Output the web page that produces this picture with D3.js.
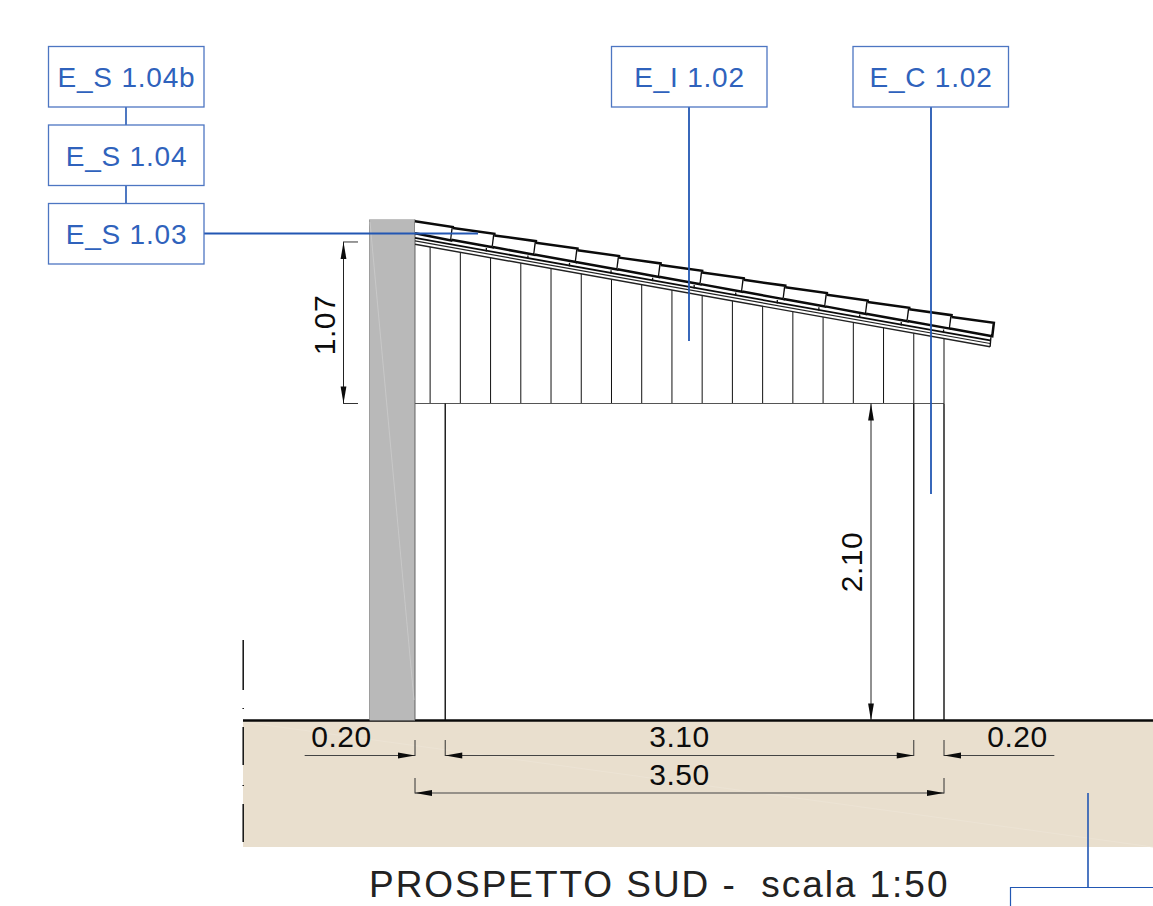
<!DOCTYPE html>
<html><head><meta charset="utf-8">
<script src="https://cdn.jsdelivr.net/npm/d3@7"></script>
<style>html,body{margin:0;padding:0;background:#fff;overflow:hidden}svg{display:block}text{font-family:"Liberation Sans",sans-serif}</style>
</head><body><svg id="c" width="1153" height="906"></svg>
<script>
// Drawing values, in metres
const rafterX=[0.1,0.3,0.5,0.7,0.9,1.1,1.3,1.5,1.7,1.9,2.1,2.3,2.5,2.7,2.9,3.1,3.3,3.5];
const tileEdges=[0,0.25,0.525,0.8,1.075,1.35,1.625,1.9,2.175,2.45,2.725,2.995,3.27,3.55,3.83];
const columnX=[0.2,3.3,3.5];
const wallFace=[-0.3,0];
const lintelH=2.1, roofH0=3.155, roofSlope=0.1785, soffitEnd=3.805;
const hDimLabels=["0.20","3.10","0.20","3.50"];
const hDimFrom=[-0.73,0.2,3.5,0];
const hDimTo=[0,3.3,4.23,3.5];
const vDimLabels=["1.07","2.10"];
const vDimFrom=[2.1,0];
const vDimTo=[3.17,2.1];
const tagLabels=["E_S 1.04b","E_S 1.04","E_S 1.03","E_I 1.02","E_C 1.02"];
const titleText="PROSPETTO SUD -  scala 1:50";

const svg=d3.select("#c");
const xS=d3.scaleLinear().domain([0,3.5]).range([415,944]);
const yS=d3.scaleLinear().domain([0,2.1]).range([720.5,403.5]);
const roof=m=>yS(roofH0-roofSlope*m);
const BLUE="#2257b3", INK="#111";
const line=(x1,y1,x2,y2,c,w,g)=>(g||svg).append("line").attr("x1",x1).attr("y1",y1).attr("x2",x2).attr("y2",y2).attr("stroke",c).attr("stroke-width",w);

// ground
svg.append("rect").attr("x",243).attr("y",720).attr("width",910).attr("height",127).attr("fill","#e9dfce");
line(243,722,1153,847,"#ece3d4",1);
line(243.2,640,243.2,842,INK,1.5).attr("stroke-dasharray","50 18 1 18 38 20 1 18 39 0");
line(243,720.5,1153,720.5,"#0a0a0a",2.6);

// wall
svg.append("rect").attr("x",xS(wallFace[0])).attr("y",219.5).attr("width",xS(wallFace[1])-xS(wallFace[0])).attr("height",501)
  .attr("fill","#b9b9b9");
line(369.5,219.5,369.5,720,"#8a8a8a",.8);
line(369.5,219.5,415,219.5,"#bbb",.8);
line(415,219.5,415,720,"#555",.9);
line(370,222,414,700,"#cbcbcb",.8);

// infill rafters
svg.selectAll(".raf").data(rafterX).join("line").attr("class","raf")
  .attr("x1",d=>xS(d)).attr("x2",d=>xS(d)).attr("y1",d=>roof(d)).attr("y2",yS(lintelH))
  .attr("stroke",INK).attr("stroke-width",1);
line(xS(0),yS(lintelH),xS(3.5),yS(lintelH),"#555",1);

// columns
svg.selectAll(".col").data(columnX).join("line").attr("class","col")
  .attr("x1",d=>xS(d)).attr("x2",d=>xS(d)).attr("y1",yS(lintelH)).attr("y2",720)
  .attr("stroke",INK).attr("stroke-width",1.4);

// roof layers
[[0,1.4,"#222"],[3.3,1.2,"#222"],[6.3,1.8,"#0b0b0b"]].forEach(([off,w,c])=>{
  line(xS(0),roof(0)-off,xS(soffitEnd),roof(soffitEnd)-off,c,w);
});
line(xS(soffitEnd),roof(soffitEnd),xS(soffitEnd)+0.8,roof(soffitEnd)-9.5,"#111",1.4);

// tiles
const tiles=d3.pairs(tileEdges);
const tilePath=([a,b],i)=>{
  const xa=xS(a), xb=xS(b);
  const ya=roof(a)-23, yb=ya+5.8;
  const bx=xb-1.6, by=yb+13.5;
  const prevX=i===0?xa:xa-1.6;
  const prevY=i===0?ya+12:ya-1.8+13.5;
  return d3.line()([[xa,ya],[xb,yb],[bx,by],[prevX,prevY]]);
};
svg.selectAll(".tile").data(tiles).join("path").attr("class","tile")
  .attr("d",tilePath).attr("fill","#fff").attr("stroke","#0b0b0b").attr("stroke-width",2.5);
// batten ticks
svg.selectAll(".tick").data(tileEdges.slice(2,14)).join("line").attr("class","tick")
  .attr("x1",d=>xS(d)-8).attr("x2",d=>xS(d)-8)
  .attr("y1",d=>roof(d-0.05)-9).attr("y2",d=>roof(d-0.05)-5.5)
  .attr("stroke","#111").attr("stroke-width",1.3);

// arrowheads
const arrow=(x,y,dx,dy)=>{
  const L=17,W=2.9,px=-dy,py=dx;
  svg.append("path").attr("d",d3.line()([[x,y],[x-dx*L+px*W,y-dy*L+py*W],[x-dx*L-px*W,y-dy*L-py*W]])).attr("fill","#0b0b0b");
};
const hRow=[755.5,755.5,755.5,793];
const tickTop=[740,740,740,778];
const labelX=[341.5,679.5,1017.5,679.5], labelY=[747,747,747,785];
hDimLabels.forEach((t,i)=>{
  const a=xS(hDimFrom[i]), b=xS(hDimTo[i]), y=hRow[i];
  line(a,y,b,y,"#444",1.1);
  if(i===0){line(b,tickTop[i],b,y+.5,"#333",1);arrow(b,y,1,0);}
  else if(i===2){line(a,tickTop[i],a,y+.5,"#333",1);arrow(a,y,-1,0);}
  else {line(a,tickTop[i],a,y+.5,"#333",1);line(b,tickTop[i],b,y+.5,"#333",1);arrow(a,y,-1,0);arrow(b,y,1,0);}
  svg.append("text").attr("x",labelX[i]).attr("y",labelY[i]).attr("text-anchor","middle").attr("font-size",30).attr("letter-spacing",.5).attr("fill","#0c0c0c").text(t);
});
const vCol=[343.5,871];
vDimLabels.forEach((t,i)=>{
  const a=yS(vDimFrom[i]), b=yS(vDimTo[i]), x=vCol[i];
  line(x,a,x,b,"#222",1);
  arrow(x,a,0,1);arrow(x,b,0,-1);
  const tx=i===0?335:862, ty=i===0?325:562;
  svg.append("text").attr("transform",`translate(${tx},${ty}) rotate(-90)`).attr("text-anchor","middle").attr("font-size",30).attr("letter-spacing",.5).attr("fill","#0c0c0c").text(t);
});
line(343,yS(vDimTo[0]),358,yS(vDimTo[0]),"#333",1);
line(343,yS(vDimFrom[0]),358,yS(vDimFrom[0]),"#333",1);

// tag leader lines
line(126,107,126,125,BLUE,1.6);
line(126,185,126,203,BLUE,1.6);
line(204,233.5,478,233.5,BLUE,1.8);
line(689,107,689,341,BLUE,1.8);
line(931,107,931,494,BLUE,1.8);
line(1088,793,1088,887,BLUE,1.6);
svg.append("path").attr("d","M1010.5 906V887.5H1153").attr("fill","none").attr("stroke",BLUE).attr("stroke-width",1.2);

// tags
const tagBoxX=[48.5,48.5,48.5,611.5,853], tagBoxY=[46.5,125,203.5,46.5,46.5];
tagLabels.forEach((t,i)=>{
  svg.append("rect").attr("x",tagBoxX[i]).attr("y",tagBoxY[i]).attr("width",155.5).attr("height",60.5)
    .attr("fill","#fff").attr("stroke","#4d76c2").attr("stroke-width",1.3);
  svg.append("text").attr("x",tagBoxX[i]+78).attr("y",tagBoxY[i]+40.5).attr("text-anchor","middle").attr("font-size",28).attr("letter-spacing",.8).attr("fill","#2f62bc").text(t);
});

// title
svg.append("text").attr("x",369).attr("y",897).attr("font-size",37).attr("letter-spacing",1.95).attr("fill","#222").style("white-space","pre").text(titleText);
</script></body></html>
